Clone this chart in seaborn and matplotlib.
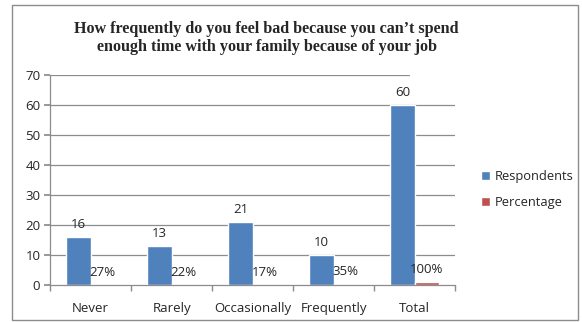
import matplotlib
matplotlib.use("Agg")
import matplotlib.pyplot as plt
import seaborn as sns
import pandas as pd
from matplotlib.patches import Rectangle

categories = ["Never", "Rarely", "Occasionally", "Frequently", "Total"]
respondents = [16, 13, 21, 10, 60]
percentage = [0.27, 0.22, 0.17, 0.35, 1.00]
percentage_labels = ["27%", "22%", "17%", "35%", "100%"]
series_names = ["Respondents", "Percentage"]
y_ticks = [0, 10, 20, 30, 40, 50, 60, 70]
title = "How frequently do you feel bad because you can\u2019t spend\nenough time with your family because of your job"

df = pd.DataFrame({
    "category": categories * 2,
    "series": [series_names[0]] * len(categories) + [series_names[1]] * len(categories),
    "value": respondents + percentage,
})

sns.set_theme(style="white")
plt.rcParams["font.family"] = ["Open Sans", "DejaVu Sans"]

fig = plt.figure(figsize=(5.82, 3.22), dpi=100)
ax = fig.add_axes([0.086, 0.115, 0.696, 0.652])

sns.barplot(data=df, x="category", y="value", hue="series", order=categories,
            hue_order=series_names, palette=["#4F81BD", "#C0504D"],
            width=0.6, saturation=1, ax=ax, legend=True)

ax.set_ylim(0, 70)
ax.set_xlim(-0.5, len(categories) - 0.5)
ax.set_yticks(y_ticks)
ax.set_xlabel("")
ax.set_ylabel("")

# horizontal gridlines
for yv in y_ticks[1:]:
    ax.axhline(yv, color="#8c8c8c", lw=0.9, zorder=0,
               xmax=(0.885 if yv == 70 else 1.0))

for s in ["top", "right"]:
    ax.spines[s].set_visible(False)
for s in ["left", "bottom"]:
    ax.spines[s].set_color("#8c8c8c")
    ax.spines[s].set_linewidth(0.9)

ax.tick_params(axis="y", which="both", left=True, length=4, color="#8c8c8c",
               labelsize=9.5, pad=3)
ax.tick_params(axis="x", which="major", bottom=False, labelsize=9.5, pad=6)
ax.set_xticks([i - 0.5 for i in range(len(categories) + 1)], minor=True)
ax.tick_params(axis="x", which="minor", bottom=True, length=4, color="#8c8c8c")

# value labels
ax.bar_label(ax.containers[0], labels=[str(v) for v in respondents],
             padding=4, fontsize=9.5)
ax.bar_label(ax.containers[1], labels=percentage_labels,
             padding=4, fontsize=9.5)

leg = ax.legend(loc="center left", bbox_to_anchor=(1.035, 0.455), frameon=False,
                fontsize=9.3, handlelength=0.7, handleheight=0.7,
                handletextpad=0.35, labelspacing=1.05)

fig.suptitle(title, x=0.458, y=0.935, fontsize=11.6, fontweight="bold",
             family="Liberation Serif", linespacing=1.2)

# outer border of the chart area
fig.patches.append(Rectangle((0.021, 0.006), 0.972, 0.98, transform=fig.transFigure,
                             fill=False, edgecolor="#8c8c8c", lw=1.0))

fig.savefig("out.png", dpi=100)
